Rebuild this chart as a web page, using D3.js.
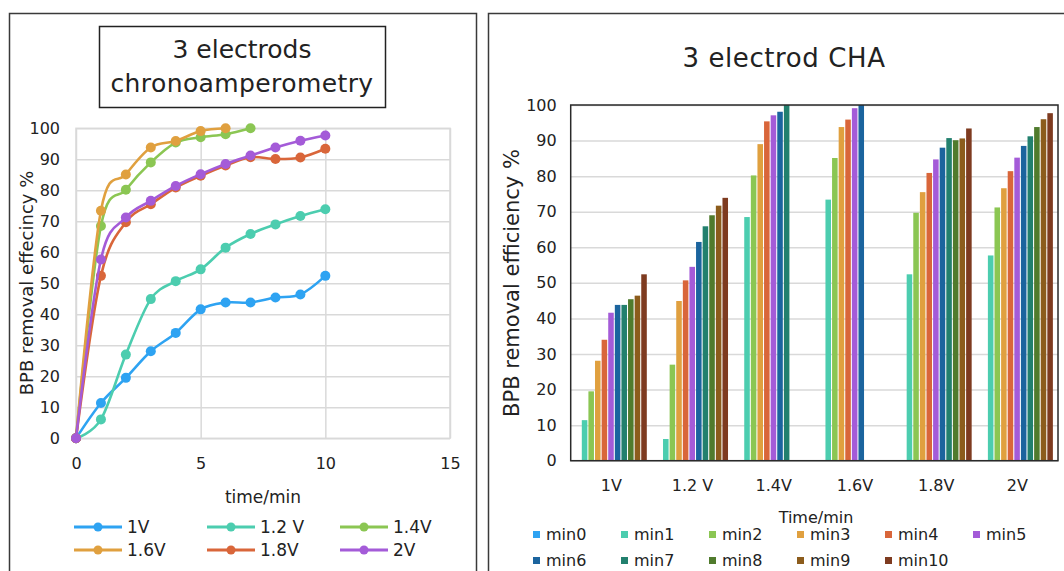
<!DOCTYPE html>
<meta charset="utf-8">
<script src="https://cdn.jsdelivr.net/npm/d3@7"></script>
<style>
body{margin:0;background:#fff;}
svg text{font-family:"DejaVu Sans",sans-serif;fill:#222;}
.grid line{stroke:#d9d9d9;stroke-width:1.5;}
.grid path{display:none;}
.lbl path{display:none;}
.lbl text{font-size:16px;fill:#222;}
</style>
<div id="vis"></div>
<script>

// categories
var voltages = ["1V", "1.2 V", "1.4V", "1.6V", "1.8V", "2V"];
var times = [0, 1, 2, 3, 4, 5, 6, 7, 8, 9, 10];
var minNames = ["min0", "min1", "min2", "min3", "min4", "min5", "min6", "min7", "min8", "min9", "min10"];
var colors = ["#2ea3f2", "#4ccdaf", "#8bc653", "#e0a03f", "#d9663a", "#a45bd8",
              "#1b649e", "#22806e", "#507b2d", "#8c5c1c", "#7e3b20"];

// BPB removal efficiency % at each minute, one array per voltage
var eff1V  = [0, 11.4, 19.5, 28.1, 34.0, 41.6, 43.8, 43.8, 45.4, 46.4, 52.4];
var eff12V = [0, 6.1, 27.0, 44.9, 50.7, 54.5, 61.5, 65.9, 69.0, 71.7, 73.9];
var eff14V = [0, 68.5, 80.2, 89.0, 95.4, 97.1, 98.1, 100];
var eff16V = [0, 73.4, 85.1, 93.8, 95.9, 99.1, 100];
var eff18V = [0, 52.4, 69.7, 75.5, 80.9, 84.7, 88.0, 90.7, 90.1, 90.6, 93.4];
var eff2V  = [0, 57.7, 71.2, 76.6, 81.4, 85.2, 88.5, 91.2, 93.8, 96.0, 97.7];
var yTicks = [0, 10, 20, 30, 40, 50, 60, 70, 80, 90, 100];
var xTicksL = [0, 5, 10, 15];

var series = [eff1V, eff12V, eff14V, eff16V, eff18V, eff2V];

var svg = d3.select("#vis").append("svg")
    .attr("width", 1064)
    .attr("height", 571);

// panel frames
svg.append("rect").attr("x", 9.5).attr("y", 13.5).attr("width", 467).attr("height", 600)
    .attr("fill", "#fff").attr("stroke", "#3a3a3a").attr("stroke-width", 1.5);
svg.append("rect").attr("x", 488.5).attr("y", 13.5).attr("width", 600).attr("height", 600)
    .attr("fill", "#fff").attr("stroke", "#3a3a3a").attr("stroke-width", 1.5);

// ---------- left: line chart ----------
var xL = d3.scaleLinear().domain([0, 15]).range([76, 450]);
var yL = d3.scaleLinear().domain([0, 100]).range([438.3, 128.3]);

svg.append("rect").attr("x", 99.5).attr("y", 26.5).attr("width", 286).attr("height", 81)
    .attr("fill", "#fff").attr("stroke", "#222").attr("stroke-width", 1.5);
svg.append("text").attr("x", 242).attr("y", 58).attr("text-anchor", "middle")
    .style("font-size", "25px").text("3  electrods");
svg.append("text").attr("x", 242).attr("y", 92).attr("text-anchor", "middle")
    .style("font-size", "25px").style("letter-spacing", "0.4px").text("chronoamperometry");

svg.append("g").attr("class", "grid")
    .attr("transform", "translate(" + xL(0) + ",0)")
    .call(d3.axisLeft(yL).tickValues(yTicks).tickSize(-(xL(15) - xL(0))).tickFormat(""));
svg.append("g").attr("class", "grid")
    .attr("transform", "translate(0," + yL(0) + ")")
    .call(d3.axisBottom(xL).tickValues(xTicksL).tickSize(-(yL(0) - yL(100))).tickFormat(""));
svg.append("rect").attr("x", xL(0)).attr("y", yL(100))
    .attr("width", xL(15) - xL(0)).attr("height", yL(0) - yL(100))
    .attr("fill", "none").attr("stroke", "#d9d9d9").attr("stroke-width", 1.5);

svg.append("g").attr("class", "lbl")
    .attr("transform", "translate(" + xL(0) + ",0)")
    .call(d3.axisLeft(yL).tickValues(yTicks).tickSize(0).tickPadding(16));
svg.append("g").attr("class", "lbl")
    .attr("transform", "translate(0," + yL(0) + ")")
    .call(d3.axisBottom(xL).tickValues(xTicksL).tickSize(0).tickPadding(19));

var line = d3.line()
    .x(function(d, i) { return xL(times[i]); })
    .y(function(d) { return yL(d); })
    .curve(d3.curveCardinal.tension(0));

series.forEach(function(s, k) {
  svg.append("path").datum(s)
      .attr("d", line)
      .attr("fill", "none")
      .attr("stroke", colors[k])
      .attr("stroke-width", 2.6);
  svg.selectAll(".pt" + k).data(s).enter().append("circle")
      .attr("cx", function(d, i) { return xL(times[i]); })
      .attr("cy", function(d) { return yL(d); })
      .attr("r", 5)
      .attr("fill", colors[k]);
});

svg.append("text").attr("x", 263).attr("y", 503).attr("text-anchor", "middle")
    .style("font-size", "17px").text("time/min");
svg.append("text").attr("transform", "translate(33,283) rotate(-90)")
    .attr("text-anchor", "middle").style("font-size", "18px")
    .text("BPB removal effecincy %");

// left legend
voltages.forEach(function(v, k) {
  var lx = 74 + (k % 3) * 133, ly = 527 + Math.floor(k / 3) * 23;
  svg.append("line").attr("x1", lx).attr("x2", lx + 48).attr("y1", ly).attr("y2", ly)
      .attr("stroke", colors[k]).attr("stroke-width", 3);
  svg.append("circle").attr("cx", lx + 24).attr("cy", ly).attr("r", 4.5).attr("fill", colors[k]);
  svg.append("text").attr("x", lx + 53).attr("y", ly + 6).style("font-size", "17px").text(v);
});

// ---------- right: grouped bars ----------
var x0 = d3.scaleBand().domain(voltages).range([570.7, 1058]);
var x1 = d3.scaleBand().domain(minNames).range([4.5, 76.1]).paddingInner(0.16);
var yR = d3.scaleLinear().domain([0, 100]).range([460.7, 105]);

svg.append("text").attr("x", 784).attr("y", 67).attr("text-anchor", "middle")
    .style("font-size", "26px").style("letter-spacing", "0.6px").text("3 electrod CHA");

svg.append("g").attr("class", "grid")
    .attr("transform", "translate(570.7,0)")
    .call(d3.axisLeft(yR).tickValues(yTicks).tickSize(-(1058 - 570.7)).tickFormat(""));

var groups = svg.selectAll(".grp").data(series).enter().append("g")
    .attr("class", "grp")
    .attr("transform", function(d, k) { return "translate(" + x0(voltages[k]) + ",0)"; });
groups.selectAll("rect").data(function(d) { return d; }).enter().append("rect")
    .attr("x", function(d, i) { return x1(minNames[i]); })
    .attr("y", function(d) { return yR(d); })
    .attr("width", x1.bandwidth())
    .attr("height", function(d) { return yR(0) - yR(d); })
    .attr("fill", function(d, i) { return colors[i]; });

svg.append("rect").attr("x", 570.7).attr("y", yR(100))
    .attr("width", 1058 - 570.7).attr("height", yR(0) - yR(100))
    .attr("fill", "none").attr("stroke", "#2a2a2a").attr("stroke-width", 1.5);

svg.append("g").attr("class", "lbl")
    .attr("transform", "translate(570.7,0)")
    .call(d3.axisLeft(yR).tickValues(yTicks).tickSize(0).tickPadding(14));
svg.append("g").attr("class", "lbl")
    .attr("transform", "translate(0," + yR(0) + ")")
    .call(d3.axisBottom(x0).tickSize(0).tickPadding(19));

svg.append("text").attr("transform", "translate(519,283) rotate(-90)")
    .attr("text-anchor", "middle").style("font-size", "21px")
    .text("BPB removal efficiency %");
svg.append("text").attr("x", 816).attr("y", 523).attr("text-anchor", "middle")
    .style("font-size", "16px").text("Time/min");

// right legend
minNames.forEach(function(m, i) {
  var lx = 533 + (i % 6) * 88, ly = 535 + Math.floor(i / 6) * 26;
  svg.append("rect").attr("x", lx).attr("y", ly - 4).attr("width", 7).attr("height", 7)
      .attr("fill", colors[i]);
  svg.append("text").attr("x", lx + 13).attr("y", ly + 5).style("font-size", "16px").text(m);
});

</script>
